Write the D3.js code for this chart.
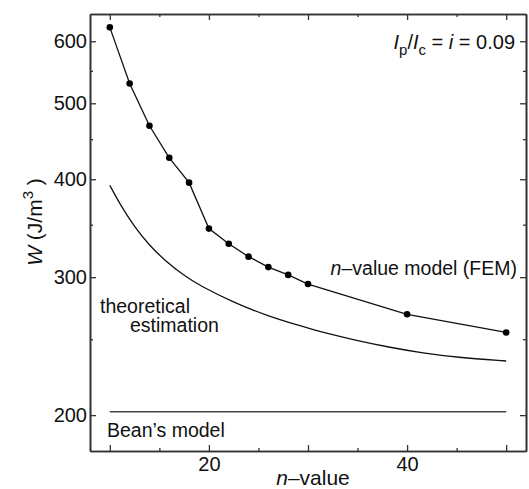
<!DOCTYPE html>
<html>
<head>
<meta charset="utf-8">
<script src="https://cdn.jsdelivr.net/npm/d3@7"></script>
<style>
  body { margin: 0; background: #fff; }
  svg text { font-family: "Liberation Sans", Arial, Helvetica, sans-serif; fill: #111; }
</style>
</head>
<body>
<div id="chart"></div>
<script>
var svgWidth = 529;
var svgHeight = 489;

// n-value model (FEM) points
var femN = [10, 12, 14, 16, 18, 20, 22, 24, 26, 28, 30, 40, 50];
var femW = [625, 530, 468, 426, 396, 346, 331, 318.6, 309, 302, 294, 269, 255];

// theoretical estimation curve
var theoN = [10, 11, 12.4, 14, 15.7, 17.4, 19.1, 22.5, 25.8, 29.2, 31.5, 34.9, 38.3, 41.6, 45, 50];
var theoW = [393, 372, 349, 329, 314, 302, 292.5, 278.5, 268, 260, 255, 249, 244, 240, 237, 234.5];

// Bean's model
var beanN = [10, 50];
var beanW = [202, 202];

var yMajor = [200, 300, 400, 500, 600];
var yMinor = [250, 350, 450, 550];
var xMajor = [10, 20, 30, 40, 50];
var xMinor = [15, 25, 35, 45];
var xLabeled = [20, 40];

var plot = {left: 90, right: 526, top: 14, bottom: 451};

var svg = d3.select("#chart")
    .append("svg")
    .attr("width", svgWidth)
    .attr("height", svgHeight);

var xScale = d3.scaleLinear()
    .domain([8, 52])
    .range([plot.left, plot.right]);

var yScale = d3.scaleLog()
    .domain([180, 650])
    .range([plot.bottom, plot.top]);

function styleAxis(g) {
    g.selectAll("path").attr("stroke", "#333").attr("stroke-width", 1.6);
    g.selectAll("line").attr("stroke", "#333").attr("stroke-width", 1.3);
    g.selectAll("text").attr("font-size", 20).attr("fill", "#111")
        .attr("font-family", "Liberation Sans, Arial, sans-serif");
}

// left axis
svg.append("g")
    .attr("transform", `translate(${plot.left},0)`)
    .call(d3.axisLeft(yScale).tickValues(yMajor).tickSize(-6).tickSizeOuter(0)
        .tickPadding(3).tickFormat(d3.format("d")))
    .call(styleAxis);
svg.append("g")
    .attr("transform", `translate(${plot.left},0)`)
    .call(d3.axisLeft(yScale).tickValues(yMinor).tickSize(-3).tickSizeOuter(0).tickFormat(""))
    .call(styleAxis);

// right axis
svg.append("g")
    .attr("transform", `translate(${plot.right},0)`)
    .call(d3.axisRight(yScale).tickValues(yMajor).tickSize(-6).tickSizeOuter(0).tickFormat(""))
    .call(styleAxis);
svg.append("g")
    .attr("transform", `translate(${plot.right},0)`)
    .call(d3.axisRight(yScale).tickValues(yMinor).tickSize(-3).tickSizeOuter(0).tickFormat(""))
    .call(styleAxis);

// bottom axis
svg.append("g")
    .attr("transform", `translate(0,${plot.bottom})`)
    .call(d3.axisBottom(xScale).tickValues(xMajor).tickSize(-6).tickSizeOuter(0)
        .tickPadding(6).tickFormat(d => xLabeled.indexOf(d) >= 0 ? d : ""))
    .call(styleAxis);
svg.append("g")
    .attr("transform", `translate(0,${plot.bottom})`)
    .call(d3.axisBottom(xScale).tickValues(xMinor).tickSize(-3).tickSizeOuter(0).tickFormat(""))
    .call(styleAxis);

// top axis
svg.append("g")
    .attr("transform", `translate(0,${plot.top})`)
    .call(d3.axisTop(xScale).tickValues(xMajor).tickSize(-6).tickSizeOuter(0).tickFormat(""))
    .call(styleAxis);
svg.append("g")
    .attr("transform", `translate(0,${plot.top})`)
    .call(d3.axisTop(xScale).tickValues(xMinor).tickSize(-3).tickSizeOuter(0).tickFormat(""))
    .call(styleAxis);

// lines
var femData = femN.map((n, i) => ({n: n, w: femW[i]}));
var theoData = theoN.map((n, i) => ({n: n, w: theoW[i]}));
var beanData = beanN.map((n, i) => ({n: n, w: beanW[i]}));

var straight = d3.line().x(d => xScale(d.n)).y(d => yScale(d.w));
var smooth = d3.line().x(d => xScale(d.n)).y(d => yScale(d.w)).curve(d3.curveBasis);

svg.append("path")
    .datum(beanData)
    .attr("d", straight)
    .attr("fill", "none")
    .attr("stroke", "#444")
    .attr("stroke-width", 1.5);

svg.append("path")
    .datum(theoData)
    .attr("d", smooth)
    .attr("fill", "none")
    .attr("stroke", "#111")
    .attr("stroke-width", 1.3);

svg.append("path")
    .datum(femData)
    .attr("d", straight)
    .attr("fill", "none")
    .attr("stroke", "#111")
    .attr("stroke-width", 1.3);

svg.selectAll(".fem-dot")
    .data(femData)
    .enter()
    .append("circle")
    .attr("class", "fem-dot")
    .attr("cx", d => xScale(d.n))
    .attr("cy", d => yScale(d.w))
    .attr("r", 3.3)
    .attr("fill", "#000");

// annotations
var ann = svg.append("text")
    .attr("x", 515)
    .attr("y", 49)
    .attr("text-anchor", "end")
    .attr("font-size", 20);
ann.append("tspan").attr("font-style", "italic").text("I");
ann.append("tspan").attr("font-size", 15).attr("dy", 6).text("p");
ann.append("tspan").attr("dy", -6).text("/");
ann.append("tspan").attr("font-style", "italic").text("I");
ann.append("tspan").attr("font-size", 15).attr("dy", 6).text("c");
ann.append("tspan").attr("dy", -6).text(" = ");
ann.append("tspan").attr("font-style", "italic").text("i");
ann.append("tspan").text(" = 0.09");

var fem = svg.append("text")
    .attr("x", 517)
    .attr("y", 275)
    .attr("text-anchor", "end")
    .attr("font-size", 19.5);
fem.append("tspan").attr("font-style", "italic").text("n");
fem.append("tspan").text("–value model (FEM)");

svg.append("text")
    .attr("x", 100)
    .attr("y", 313)
    .attr("font-size", 19.5)
    .text("theoretical");
svg.append("text")
    .attr("x", 130)
    .attr("y", 332)
    .attr("font-size", 19.5)
    .text("estimation");

svg.append("text")
    .attr("x", 107)
    .attr("y", 437)
    .attr("font-size", 19.5)
    .text("Bean’s model");

// axis titles
var xt = svg.append("text")
    .attr("x", 313)
    .attr("y", 485)
    .attr("text-anchor", "middle")
    .attr("font-size", 21);
xt.append("tspan").attr("font-style", "italic").text("n");
xt.append("tspan").text("–value");

var yt = svg.append("text")
    .attr("transform", "translate(42,222) rotate(-90)")
    .attr("text-anchor", "middle")
    .attr("font-size", 21);
yt.append("tspan").attr("font-style", "italic").text("W");
yt.append("tspan").text(" (J/m");
yt.append("tspan").attr("font-size", 15).attr("dy", -9).text("3");
yt.append("tspan").attr("dy", 9).text(" )");
</script>
</body>
</html>
